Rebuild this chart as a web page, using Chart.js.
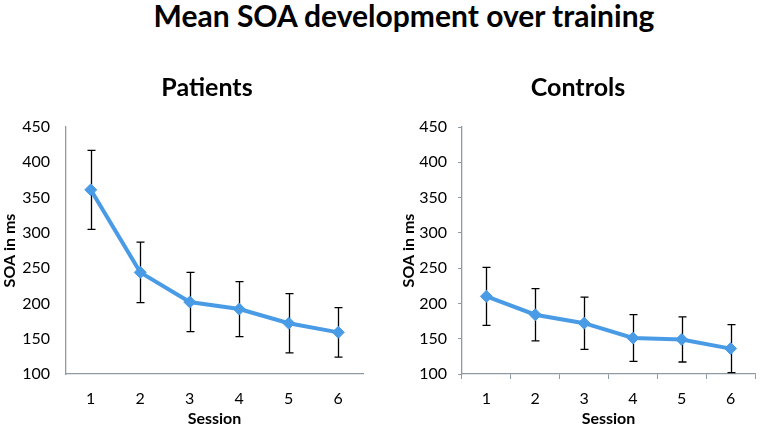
<!DOCTYPE html>
<html>
<head>
<meta charset="utf-8">
<script src="https://cdn.jsdelivr.net/npm/chart.js@4"></script>
<style>
    html, body { margin: 0; padding: 0; background: #fff; }
    body { width: 762px; height: 432px; position: relative; overflow: hidden; font-family: Lato, sans-serif; }
    .heading {
        position: absolute; transform: translateX(-50%);
        white-space: nowrap; font-weight: bold; color: #000; line-height: normal;
    }
    #main-title { left: 404px; top: -3px; font-size: 30px; }
    .sub { top: 71px; font-size: 25px; }
    #sub-left { left: 207px; }
    #sub-right { left: 578px; }
    .panel { position: absolute; top: 60px; height: 372px; }
    #left { left: 0; width: 414px; }
    #right { left: 394px; width: 368px; }
</style>
</head>
<body>
<div class="heading" id="main-title">Mean SOA development over training</div>
<div class="panel" id="left"><canvas id="patientsChart"></canvas></div>
<div class="panel" id="right"><canvas id="controlsChart"></canvas></div>
<div class="heading sub" id="sub-left">Patients</div>
<div class="heading sub" id="sub-right">Controls</div>
<script>
const SESSIONS = ['1', '2', '3', '4', '5', '6'];
const PATIENT_MEANS = [361, 244, 202, 192, 172, 159];
const PATIENT_ERR = [56, 43, 42, 39, 42, 35];
const CONTROL_MEANS = [210, 184, 172, 151, 149, 136];
const CONTROL_ERR = [41, 37, 37, 33, 32, 34];
const Y_MIN = 100, Y_MAX = 450, Y_STEP = 50;

const BLUE = 'rgb(74, 155, 229)';
const AXIS = '#8e9ba2';

// error bars, drawn under the line and markers
const errorBars = {
    id: 'errorBars',
    beforeDatasetsDraw(chart, args, opts) {
        const { ctx, scales: { x, y } } = chart;
        const means = chart.data.datasets[0].data;
        ctx.save();
        ctx.strokeStyle = '#000';
        ctx.lineWidth = 1.3;
        means.forEach((m, i) => {
            const px = Math.round(x.getPixelForValue(i)) + 0.5;
            const top = y.getPixelForValue(m + opts.err[i]);
            const bot = y.getPixelForValue(m - opts.err[i]);
            ctx.beginPath();
            ctx.moveTo(px, top); ctx.lineTo(px, bot);
            ctx.moveTo(px - 4, top); ctx.lineTo(px + 4, top);
            ctx.moveTo(px - 4, bot); ctx.lineTo(px + 4, bot);
            ctx.stroke();
        });
        ctx.restore();
    }
};

function makeChart(id, means, err, opt) {
    const ctx = document.getElementById(id).getContext('2d');
    return new Chart(ctx, {
        type: 'line',
        data: {
            labels: SESSIONS,
            datasets: [{
                data: means,
                borderColor: BLUE,
                backgroundColor: BLUE,
                borderWidth: 4,
                pointStyle: 'rectRot',
                pointRadius: 6,
                pointBorderWidth: 1,
                tension: 0
            }]
        },
        plugins: [errorBars],
        options: {
            responsive: true,
            maintainAspectRatio: false,
            animation: false,
            layout: { padding: { left: opt.padLeft, right: opt.padRight, top: 67, bottom: 4 } },
            plugins: {
                legend: { display: false },
                tooltip: { enabled: false },
                errorBars: { err }
            },
            scales: {
                x: {
                    offset: true,
                    border: { display: true, color: AXIS, width: 1.3 },
                    grid: {
                        display: opt.ticks, offset: true, drawOnChartArea: false,
                        drawTicks: true, tickLength: 5, color: AXIS
                    },
                    ticks: { color: '#000', padding: 10, font: { family: 'Lato', size: 16 } },
                    title: {
                        display: true, text: 'Session', color: '#000', padding: 0,
                        font: { family: 'Lato', size: 16, weight: 'bold' }
                    },
                    afterFit(scale) { scale.height = 54; }
                },
                y: {
                    min: Y_MIN,
                    max: Y_MAX,
                    border: { display: true, color: AXIS, width: 1.3 },
                    grid: {
                        display: opt.ticks, drawOnChartArea: false,
                        drawTicks: true, tickLength: 4, color: AXIS
                    },
                    ticks: {
                        stepSize: Y_STEP, color: '#000', padding: opt.ticks ? 11 : 12,
                        font: { family: 'Lato', size: 16 }
                    },
                    title: {
                        display: true, text: 'SOA in ms', color: '#000', padding: 0,
                        font: { family: 'Lato', size: 16, weight: 'bold' }
                    },
                    afterFit(scale) { scale.width = opt.yWidth; }
                }
            }
        }
    });
}

makeChart('patientsChart', PATIENT_MEANS, PATIENT_ERR,
    { padLeft: 0, padRight: 51, yWidth: 66, ticks: false });
makeChart('controlsChart', CONTROL_MEANS, CONTROL_ERR,
    { padLeft: 5, padRight: 3, yWidth: 63, ticks: true });
</script>
</body>
</html>
